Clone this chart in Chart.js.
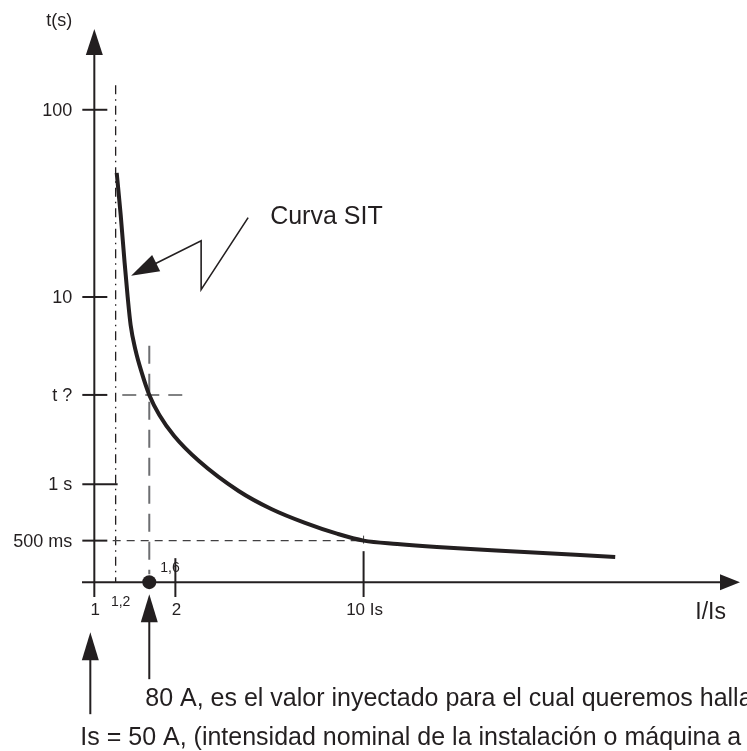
<!DOCTYPE html>
<html>
<head>
<meta charset="utf-8">
<script src="https://cdn.jsdelivr.net/npm/chart.js@4"></script>
<style>
  body { margin: 0; background: #fff; }
  canvas { display: block; }
</style>
</head>
<body>
<canvas id="sitChart" width="747" height="751"></canvas>
<script>
// SIT curve: multiple of the setting current (I/Is) and tripping time in seconds
const currentRatio = [1.211, 1.253, 1.296, 1.33, 1.364, 1.422, 1.497, 1.6, 1.744, 1.98, 2.447,
  3.435, 4.543, 6.06, 8.015, 10, 13.33, 18.71, 31.1, 86];
const tripSeconds = [46, 27.4, 15.2, 10.0, 7.09, 5.21, 3.98, 3.0, 2.345, 1.811, 1.331,
  0.921, 0.738, 0.622, 0.543, 0.5, 0.48, 0.4625, 0.443, 0.409];

// axis ticks
const xTickValues = [1, 1.2, 1.6, 2, 10];
const xTickLabels = ['1', '1,2', '1,6', '2', '10 Is'];
const yTickValues = [100, 10, 3, 1, 0.5];
const yTickLabels = ['100', '10', 't ?', '1 s', '500 ms'];

// Is = 50 A, injected 80 A -> 1.6 Is
const settingRatio = 1;
const thresholdRatio = 1.2;
const injectedRatio = 1.6;
const tQuery = 3;
const originTime = 0.3;

const INK = '#231f20';
const FONT = "'Liberation Sans', Arial, Helvetica, sans-serif";

function strokeLine(ctx, x1, y1, x2, y2, width, color, dash) {
  ctx.save();
  ctx.strokeStyle = color;
  ctx.lineWidth = width;
  ctx.setLineDash(dash || []);
  ctx.beginPath();
  ctx.moveTo(x1, y1);
  ctx.lineTo(x2, y2);
  ctx.stroke();
  ctx.restore();
}

// filled triangle, (dx, dy) is the unit direction the arrow points to
function arrowHead(ctx, tipX, tipY, dx, dy, len, half) {
  const bx = tipX - dx * len;
  const by = tipY - dy * len;
  ctx.save();
  ctx.fillStyle = INK;
  ctx.beginPath();
  ctx.moveTo(tipX, tipY);
  ctx.lineTo(bx - dy * half, by + dx * half);
  ctx.lineTo(bx + dy * half, by - dx * half);
  ctx.closePath();
  ctx.fill();
  ctx.restore();
}

function text(ctx, str, x, y, size, align, baseline) {
  ctx.save();
  ctx.fillStyle = INK;
  ctx.font = size + 'px ' + FONT;
  ctx.textAlign = align;
  ctx.textBaseline = baseline;
  ctx.fillText(str, x, y);
  ctx.restore();
}

const diagramPlugin = {
  id: 'diagram',
  beforeDatasetsDraw(chart) {
    const {ctx, chartArea: area, scales: {x, y}} = chart;
    const ox = x.getPixelForValue(settingRatio);
    const oy = y.getPixelForValue(originTime);
    const x12 = x.getPixelForValue(thresholdRatio);
    const x16 = x.getPixelForValue(injectedRatio);
    const x10 = x.getPixelForValue(10);

    // guide lines
    strokeLine(ctx, x12, y.getPixelForValue(135), x12, oy, 1.3, INK, [9, 5, 1.5, 5]);
    strokeLine(ctx, x16, y.getPixelForValue(5.5), x16, oy - 8, 2, '#6d6e71', [18, 10]);
    strokeLine(ctx, x.getPixelForValue(1.27), y.getPixelForValue(tQuery),
      x.getPixelForValue(2.25), y.getPixelForValue(tQuery), 1.5, '#58595b', [14, 9]);
    strokeLine(ctx, x.getPixelForValue(1.17), y.getPixelForValue(0.5),
      x10 - 4, y.getPixelForValue(0.5), 1.2, '#414042', [8, 6]);
    strokeLine(ctx, x10, y.getPixelForValue(0.5) - 5, x10, y.getPixelForValue(0.5) + 3, 1, '#414042');

    // axes with arrows
    strokeLine(ctx, ox, area.bottom, ox, area.top + 20, 2, INK);
    arrowHead(ctx, ox, area.top, 0, -1, 26, 8.5);
    strokeLine(ctx, area.left, oy, area.right - 15, oy, 2, INK);
    arrowHead(ctx, area.right, oy, 1, 0, 20, 8);

    // y tick marks crossing the axis
    yTickValues.forEach((v) => {
      const py = y.getPixelForValue(v);
      const reach = v === 1 ? x12 + 2 : ox + 13;
      strokeLine(ctx, ox - 12, py, reach, py, 2, INK);
    });

    // x tick marks
    strokeLine(ctx, x.getPixelForValue(2), oy - 24, x.getPixelForValue(2), area.bottom, 2, INK);
    strokeLine(ctx, x10, oy - 31, x10, area.bottom, 2, INK);
  },
  afterDatasetsDraw(chart) {
    const {ctx, chartArea: area, scales: {x, y}} = chart;
    const ox = x.getPixelForValue(settingRatio);
    const oy = y.getPixelForValue(originTime);
    const x16 = x.getPixelForValue(injectedRatio);

    // y axis title and tick labels
    text(ctx, 't(s)', ox - 22, area.top - 8, 18, 'right', 'middle');
    yTickValues.forEach((v, i) => {
      text(ctx, yTickLabels[i], ox - 22, y.getPixelForValue(v) + 1, 18, 'right', 'middle');
    });

    // x tick labels
    xTickValues.forEach((v, i) => {
      const px = x.getPixelForValue(v);
      if (v === thresholdRatio) {
        text(ctx, xTickLabels[i], px + 5, oy + 20, 14, 'center', 'middle');
      } else if (v === injectedRatio) {
        text(ctx, xTickLabels[i], px + 11, oy - 14, 14, 'left', 'middle');
      } else {
        text(ctx, xTickLabels[i], px + 1, oy + 28, 17, 'center', 'middle');
      }
    });
    text(ctx, 'I/Is', area.right - 14, oy + 30, 23, 'right', 'middle');

    // callout pointing at the curve
    const tipX = x.getPixelForValue(1.37);
    const tipY = y.getPixelForValue(13);
    ctx.save();
    ctx.strokeStyle = INK;
    ctx.lineWidth = 1.6;
    ctx.beginPath();
    ctx.moveTo(tipX + 20, tipY - 10);
    ctx.lineTo(tipX + 70, tipY - 35);
    ctx.lineTo(tipX + 70, tipY + 14);
    ctx.lineTo(tipX + 117, tipY - 58);
    ctx.stroke();
    ctx.restore();
    arrowHead(ctx, tipX, tipY, -0.894, 0.447, 28, 9);
    text(ctx, 'Curva SIT', tipX + 139, tipY - 52, 25, 'left', 'alphabetic');

    // arrows under the axis
    strokeLine(ctx, x16, oy + 35, x16, oy + 97, 2, INK);
    arrowHead(ctx, x16, oy + 12, 0, -1, 28, 8.5);
    strokeLine(ctx, ox - 4, oy + 72, ox - 4, oy + 132, 2, INK);
    arrowHead(ctx, ox - 4, oy + 50, 0, -1, 28, 8.5);

    text(ctx, '80 A, es el valor inyectado para el cual queremos hallar el tiempo',
      x16 - 4, oy + 124, 25, 'left', 'alphabetic');
    text(ctx, 'Is = 50 A, (intensidad nominal de la instalación o máquina a proteger)',
      ox - 14, oy + 163, 25, 'left', 'alphabetic');
  }
};

new Chart(document.getElementById('sitChart'), {
  type: 'line',
  data: {
    datasets: [{
      label: 'Curva SIT',
      data: currentRatio.map((r, i) => ({x: r, y: tripSeconds[i]})),
      borderColor: INK,
      borderWidth: 4,
      pointRadius: 0,
      cubicInterpolationMode: 'monotone',
      fill: false
    }, {
      label: '80 A',
      type: 'scatter',
      data: [{x: injectedRatio, y: originTime}],
      pointRadius: 7,
      pointBackgroundColor: INK,
      pointBorderWidth: 0,
      clip: false
    }]
  },
  options: {
    responsive: false,
    animation: false,
    devicePixelRatio: 1,
    layout: {
      padding: {left: 82, right: 1, top: 29, bottom: 154}
    },
    scales: {
      x: {type: 'logarithmic', min: 0.9, max: 250, bounds: 'data', display: false},
      y: {type: 'logarithmic', min: 0.25, max: 270, bounds: 'data', display: false}
    },
    plugins: {
      legend: {display: false},
      tooltip: {enabled: false}
    }
  },
  plugins: [diagramPlugin]
});
</script>
</body>
</html>
